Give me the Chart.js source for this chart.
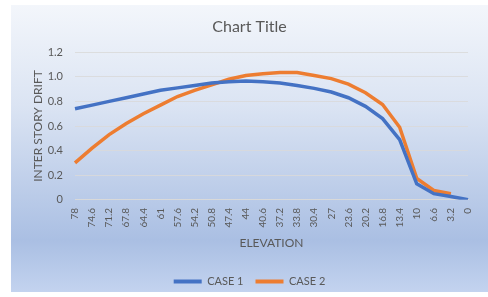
<!DOCTYPE html>
<html>
<head>
<meta charset="utf-8">
<script src="https://cdn.jsdelivr.net/npm/chart.js@4.4.1/dist/chart.umd.min.js"></script>
<style>
  html, body { margin: 0; padding: 0; background: #fff; }
  #box {
    position: absolute; left: 11px; top: 5px; width: 477px; height: 287px;
    background: linear-gradient(180deg, #f3f6fb 0%, #dbe4f3 35%, #aabfe3 82%, #c3d3ef 100%);
  }
</style>
</head>
<body>
<div id="box"><canvas id="chart" width="477" height="287"></canvas></div>
<script>
const elevation = ['78', '74.6', '71.2', '67.8', '64.4', '61', '57.6', '54.2', '50.8', '47.4', '44', '40.6',
  '37.2', '33.8', '30.4', '27', '23.6', '20.2', '16.8', '13.4', '10', '6.6', '3.2', '0']
const case1 = [0.74, 0.77, 0.80, 0.83, 0.86, 0.89, 0.91, 0.93, 0.95, 0.96, 0.965, 0.96,
  0.95, 0.93, 0.906, 0.876, 0.83, 0.76, 0.66, 0.49, 0.13, 0.05, 0.027, 0]
const case2 = [0.30, 0.42, 0.53, 0.62, 0.70, 0.77, 0.84, 0.89, 0.935, 0.98, 1.01, 1.025,
  1.035, 1.035, 1.01, 0.985, 0.94, 0.87, 0.775, 0.59, 0.175, 0.076, 0.05, null]
const yTicks = [0, 0.2, 0.4, 0.6, 0.8, 1, 1.2]

const blue = '#4472C4'
const orange = '#ED7D31'
const grey = '#595959'
const font = 'Lato, "Liberation Sans", sans-serif'

const lineSet = (label, data, color) => ({
  label: label,
  data: data,
  borderColor: color,
  backgroundColor: color,
  borderWidth: 3.5,
  pointRadius: 0,
  tension: 0,
  spanGaps: false
})

new Chart(document.getElementById('chart'), {
  type: 'line',
  data: {
    labels: elevation,
    datasets: [lineSet('CASE 1', case1, blue), lineSet('CASE 2', case2, orange)]
  },
  options: {
    responsive: false,
    animation: false,
    layout: { padding: { top: 12, left: 0, right: 0, bottom: -5 } },
    plugins: {
      title: {
        display: true,
        text: 'Chart Title',
        color: grey,
        font: { family: font, size: 16, weight: 'normal' },
        padding: { top: 0, bottom: 16 }
      },
      legend: {
        position: 'bottom',
        labels: {
          color: grey,
          font: { family: font, size: 11 },
          boxWidth: 28,
          boxHeight: 4,
          padding: 12,
          generateLabels: (chart) => chart.data.datasets.map((ds, i) => ({
            text: ds.label,
            fillStyle: ds.borderColor,
            strokeStyle: ds.borderColor,
            lineWidth: 0,
            fontColor: grey,
            datasetIndex: i
          }))
        }
      },
      tooltip: { enabled: false }
    },
    scales: {
      x: {
        grid: { display: false, drawTicks: false },
        border: { color: '#d9d9d9', width: 1 },
        ticks: {
          color: grey,
          font: { family: font, size: 10 },
          minRotation: 90,
          maxRotation: 90,
          autoSkip: false,
          padding: 8
        },
        title: {
          display: true,
          text: 'ELEVATION',
          color: grey,
          font: { family: font, size: 12 },
          padding: { top: 0, bottom: 14 }
        }
      },
      y: {
        min: 0,
        max: 1.2,
        afterFit: (s) => { s.width = 64 },
        afterBuildTicks: (s) => { s.ticks = yTicks.map(v => ({ value: v })) },
        grid: { color: 'rgba(217,217,217,0.85)', drawTicks: false },
        border: { display: false },
        ticks: {
          color: grey,
          font: { family: font, size: 11 },
          padding: 12
        },
        title: {
          display: true,
          text: 'INTER STORY DRIFT',
          color: grey,
          font: { family: font, size: 12 },
          padding: { top: 20, bottom: 2 }
        }
      }
    }
  }
})
</script>
</body>
</html>
